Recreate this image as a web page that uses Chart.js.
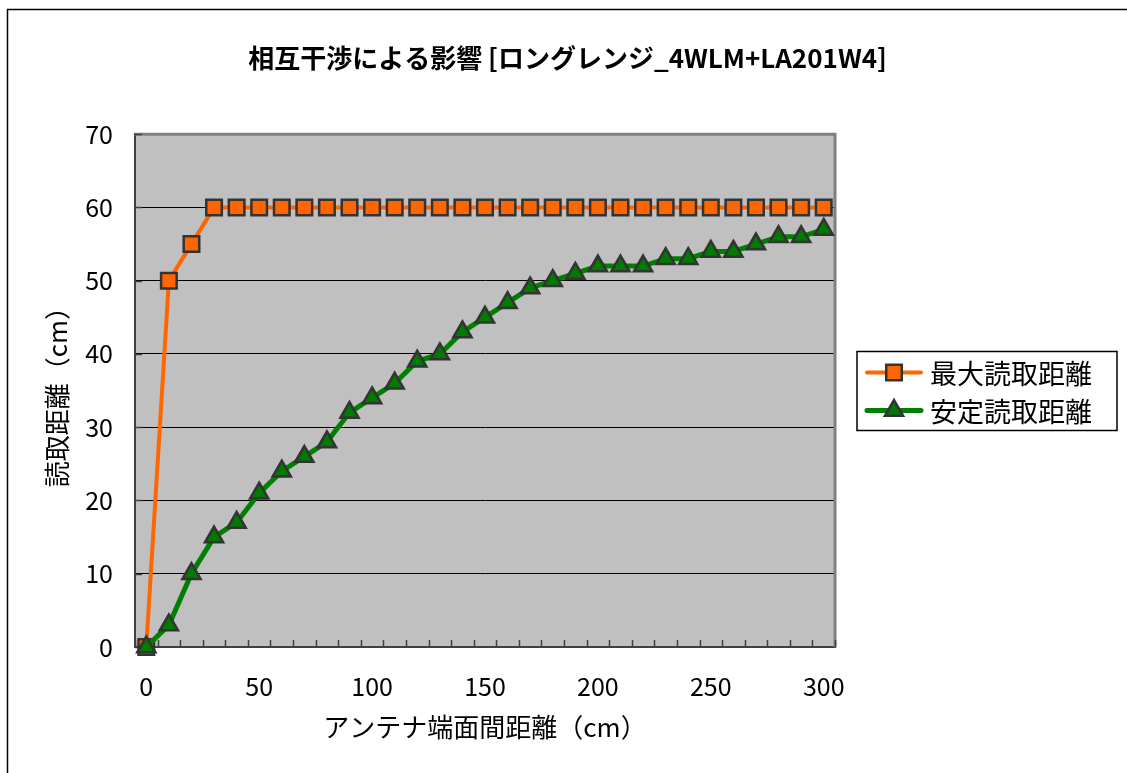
<!DOCTYPE html>
<html>
<head>
<meta charset="utf-8">
<script src="https://cdn.jsdelivr.net/npm/chart.js@4.4.0/dist/chart.umd.min.js"></script>
<style>
  html, body { margin: 0; padding: 0; background: #fff; }
  #wrap { width: 1127px; height: 773px; position: relative; }
</style>
</head>
<body>
<div id="wrap"><canvas id="chart"></canvas></div>
<script>
// ---------------- Data ----------------
const distances = [0, 10, 20, 30, 40, 50, 60, 70, 80, 90, 100, 110, 120, 130, 140, 150,
  160, 170, 180, 190, 200, 210, 220, 230, 240, 250, 260, 270, 280, 290, 300];
const maxRange = [0, 50, 55, 60, 60, 60, 60, 60, 60, 60, 60, 60, 60, 60, 60, 60,
  60, 60, 60, 60, 60, 60, 60, 60, 60, 60, 60, 60, 60, 60, 60];
const stableRange = [0, 3, 10, 15, 17, 21, 24, 26, 28, 32, 34, 36, 39, 40, 43, 45,
  47, 49, 50, 51, 52, 52, 52, 53, 53, 54, 54, 55, 56, 56, 57];
const seriesNames = ["最大読取距離", "安定読取距離"];
const xLabelEvery = 50;
const yMin = 0, yMax = 70, yStep = 10;

const titleText = "相互干渉による影響 [ロングレンジ_4WLM+LA201W4]";
const xTitle = "アンテナ端面間距離（cm）";
const yTitle = "読取距離（cm）";

const FONT = "'Noto Sans CJK JP', 'Noto Sans', sans-serif";

// ---------------- Plugins ----------------
const plotBg = {
  id: "plotBg",
  beforeDraw(chart) {
    const { ctx, chartArea: a } = chart;
    ctx.save();
    // outer frame (top + left)
    ctx.strokeStyle = "#000";
    ctx.lineWidth = 1.5;
    ctx.beginPath();
    ctx.moveTo(7.5, chart.height);
    ctx.lineTo(7.5, 9.5);
    ctx.lineTo(chart.width, 9.5);
    ctx.stroke();
    ctx.fillStyle = "#c0c0c0";
    ctx.fillRect(a.left, a.top, a.right - a.left, a.bottom - a.top);
    ctx.restore();
  }
};

const plotFrame = {
  id: "plotFrame",
  beforeDatasetsDraw(chart) {
    const { ctx, chartArea: a } = chart;
    const xs = chart.scales.x, ys = chart.scales.y;
    ctx.save();
    // top / right border
    ctx.strokeStyle = "#808080";
    ctx.lineWidth = 3;
    ctx.beginPath();
    ctx.moveTo(a.left, a.top);
    ctx.lineTo(a.right, a.top);
    ctx.lineTo(a.right, a.bottom);
    ctx.stroke();
    // inner tick marks
    ctx.strokeStyle = "#404040";
    ctx.lineWidth = 1.5;
    const half = (xs.getPixelForValue(1) - xs.getPixelForValue(0)) / 2;
    ctx.beginPath();
    for (let i = 0; i <= distances.length; i++) {
      const x = Math.round(xs.getPixelForValue(Math.min(i, distances.length - 1)) + (i < distances.length ? -half : half)) + 0.5;
      ctx.moveTo(x, a.bottom);
      ctx.lineTo(x, a.bottom - 7);
    }
    ys.ticks.forEach(t => {
      const y = Math.round(ys.getPixelForValue(t.value)) + 0.5;
      ctx.moveTo(a.left, y);
      ctx.lineTo(a.left + 7, y);
    });
    ctx.stroke();
    ctx.restore();
  }
};

const boxLegend = {
  id: "boxLegend",
  afterDraw(chart) {
    const { ctx, chartArea: a } = chart;
    const w = 260, h = 79;
    const x0 = a.right + 22;
    const y0 = Math.round((a.top + a.bottom) / 2 - h / 2) + 0.5;
    ctx.save();
    ctx.fillStyle = "#fff";
    ctx.fillRect(x0, y0, w, h);
    ctx.strokeStyle = "#000";
    ctx.lineWidth = 1.5;
    ctx.strokeRect(x0, y0, w, h);
    chart.data.datasets.forEach((ds, i) => {
      const cy = y0 + 21 + i * 38;
      ctx.strokeStyle = ds.borderColor;
      ctx.lineWidth = ds.borderWidth;
      ctx.lineCap = "round";
      ctx.beginPath();
      ctx.moveTo(x0 + 10, cy);
      ctx.lineTo(x0 + 64, cy);
      ctx.stroke();
      ctx.fillStyle = ds.pointBackgroundColor;
      ctx.strokeStyle = ds.pointBorderColor;
      ctx.lineWidth = ds.pointBorderWidth;
      Chart.helpers.drawPoint(ctx, {
        pointStyle: ds.pointStyle, radius: ds.pointRadius,
        borderWidth: ds.pointBorderWidth, rotation: 0
      }, x0 + 37, cy);
      ctx.fillStyle = "#000";
      ctx.font = `27px ${FONT}`;
      ctx.textBaseline = "middle";
      ctx.textAlign = "left";
      ctx.fillText(ds.label, x0 + 73, cy + 1);
    });
    ctx.restore();
  }
};

// ---------------- Chart ----------------
new Chart(document.getElementById("chart"), {
  type: "line",
  data: {
    labels: distances.map(String),
    datasets: [
      {
        label: seriesNames[0],
        data: maxRange,
        borderColor: "#ff6600",
        borderWidth: 4,
        pointStyle: "rect",
        pointRadius: 11,
        pointBackgroundColor: "#ff6600",
        pointBorderColor: "#333333",
        pointBorderWidth: 2.5,
        tension: 0,
        clip: false,
        order: 1,
      },
      {
        label: seriesNames[1],
        data: stableRange,
        borderColor: "#008000",
        borderWidth: 5,
        pointStyle: "triangle",
        pointRadius: 10.5,
        pointBackgroundColor: "#007a00",
        pointBorderColor: "#333333",
        pointBorderWidth: 2.5,
        tension: 0,
        clip: false,
        order: 0,
      },
    ],
  },
  options: {
    responsive: true,
    maintainAspectRatio: false,
    animation: false,
    events: [],
    layout: { padding: { top: 9, left: 8, right: 0, bottom: 0 } },
    plugins: {
      legend: { display: false },
      tooltip: { enabled: false },
      title: {
        display: true,
        text: titleText,
        color: "#000",
        font: { family: FONT, size: 26, weight: "bold" },
        padding: { top: 34, bottom: 60 },
      },
    },
    scales: {
      x: {
        type: "category",
        offset: true,
        grid: { display: true, color: "rgba(0,0,0,0)", drawOnChartArea: false, drawTicks: false },
        border: { display: true, color: "#404040", width: 2 },
        ticks: {
          autoSkip: false,
          maxRotation: 0,
          padding: 24,
          color: "#000",
          font: { family: FONT, size: 25 },
          callback: (v, i) => (distances[i] % xLabelEvery === 0 ? distances[i] : ""),
        },
        title: {
          display: true,
          text: xTitle,
          color: "#000",
          font: { family: FONT, size: 26 },
          padding: { top: 0, bottom: 30 },
        },
        afterFit(s) { s.height = 126; },
      },
      y: {
        min: yMin,
        max: yMax,
        grid: { color: "#000", lineWidth: 1, drawTicks: false },
        border: { display: true, color: "#404040", width: 2 },
        ticks: {
          stepSize: yStep,
          padding: 22,
          color: "#000",
          font: { family: FONT, size: 25 },
        },
        title: {
          display: true,
          text: yTitle,
          color: "#000",
          font: { family: FONT, size: 26 },
          padding: { top: 34, bottom: 0 },
        },
        afterFit(s) { s.width = 127; },
      },
      spacer: {
        position: "right",
        display: true,
        grid: { display: false, drawTicks: false },
        border: { display: false },
        ticks: { display: false },
        afterFit(s) { s.width = 292; },
      },
    },
  },
  plugins: [plotBg, plotFrame, boxLegend],
});
</script>
</body>
</html>
